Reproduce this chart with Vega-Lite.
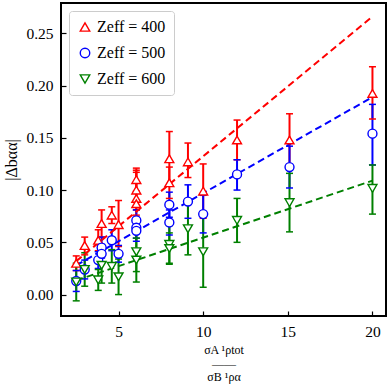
{
  "$schema": "https://vega.github.io/schema/vega-lite/v6.json",
  "width": 325,
  "height": 313,
  "autosize": {"type": "none"},
  "padding": {"left": 61, "top": 3, "right": 3, "bottom": 71},
  "background": "white",
  "config": {
    "font": "Liberation Serif",
    "view": {"stroke": "black", "strokeWidth": 2},
    "axis": {
      "grid": false,
      "domain": false,
      "tickColor": "black",
      "tickSize": -5,
      "tickWidth": 1.2,
      "labelFont": "Liberation Serif",
      "labelFontSize": 15.5,
      "labelColor": "black",
      "labelPadding": 13,
      "titleFont": "Liberation Serif",
      "titleFontSize": 16,
      "titleFontWeight": "normal",
      "titleColor": "black"
    },
    "legend": {
      "labelFont": "Liberation Serif",
      "labelFontSize": 16,
      "labelFontWeight": "normal",
      "labelColor": "black"
    }
  },
  "datasets": {
    "pts": [
      {"Z": "400", "x": 2.5, "y": 0.030, "lo": 0.023, "hi": 0.037},
      {"Z": "400", "x": 3.0, "y": 0.047, "lo": 0.038, "hi": 0.055},
      {"Z": "400", "x": 3.8, "y": 0.052, "lo": 0.042, "hi": 0.062},
      {"Z": "400", "x": 4.0, "y": 0.068, "lo": 0.055, "hi": 0.081},
      {"Z": "400", "x": 4.6, "y": 0.076, "lo": 0.068, "hi": 0.084},
      {"Z": "400", "x": 5.0, "y": 0.067, "lo": 0.046, "hi": 0.090},
      {"Z": "400", "x": 6.05, "y": 0.110, "lo": 0.099, "hi": 0.121},
      {"Z": "400", "x": 6.05, "y": 0.100, "lo": 0.089, "hi": 0.119},
      {"Z": "400", "x": 6.05, "y": 0.092, "lo": 0.081, "hi": 0.117},
      {"Z": "400", "x": 6.05, "y": 0.087, "lo": 0.076, "hi": 0.098},
      {"Z": "400", "x": 8.0, "y": 0.130, "lo": 0.104, "hi": 0.156},
      {"Z": "400", "x": 8.0, "y": 0.107, "lo": 0.092, "hi": 0.122},
      {"Z": "400", "x": 9.1, "y": 0.127, "lo": 0.112, "hi": 0.145},
      {"Z": "400", "x": 10.0, "y": 0.099, "lo": 0.073, "hi": 0.125},
      {"Z": "400", "x": 12.0, "y": 0.148, "lo": 0.129, "hi": 0.167},
      {"Z": "400", "x": 15.1, "y": 0.148, "lo": 0.123, "hi": 0.173},
      {"Z": "400", "x": 20.0, "y": 0.1925, "lo": 0.168, "hi": 0.218},
      {"Z": "500", "x": 2.5, "y": 0.013, "lo": 0.003, "hi": 0.023},
      {"Z": "500", "x": 3.0, "y": 0.024, "lo": 0.015, "hi": 0.033},
      {"Z": "500", "x": 3.8, "y": 0.033, "lo": 0.025, "hi": 0.041},
      {"Z": "500", "x": 4.0, "y": 0.045, "lo": 0.035, "hi": 0.055},
      {"Z": "500", "x": 4.0, "y": 0.039, "lo": 0.030, "hi": 0.048},
      {"Z": "500", "x": 4.6, "y": 0.052, "lo": 0.042, "hi": 0.062},
      {"Z": "500", "x": 5.0, "y": 0.039, "lo": 0.031, "hi": 0.047},
      {"Z": "500", "x": 6.05, "y": 0.071, "lo": 0.061, "hi": 0.081},
      {"Z": "500", "x": 6.05, "y": 0.064, "lo": 0.054, "hi": 0.074},
      {"Z": "500", "x": 6.05, "y": 0.061, "lo": 0.051, "hi": 0.071},
      {"Z": "500", "x": 8.0, "y": 0.086, "lo": 0.074, "hi": 0.098},
      {"Z": "500", "x": 8.0, "y": 0.069, "lo": 0.057, "hi": 0.081},
      {"Z": "500", "x": 9.1, "y": 0.089, "lo": 0.073, "hi": 0.105},
      {"Z": "500", "x": 10.0, "y": 0.077, "lo": 0.059, "hi": 0.095},
      {"Z": "500", "x": 12.0, "y": 0.115, "lo": 0.100, "hi": 0.129},
      {"Z": "500", "x": 15.1, "y": 0.122, "lo": 0.102, "hi": 0.142},
      {"Z": "500", "x": 20.0, "y": 0.154, "lo": 0.124, "hi": 0.182},
      {"Z": "600", "x": 2.5, "y": 0.012, "lo": -0.006, "hi": 0.030},
      {"Z": "600", "x": 3.0, "y": 0.024, "lo": 0.008, "hi": 0.040},
      {"Z": "600", "x": 3.8, "y": 0.014, "lo": 0.004, "hi": 0.024},
      {"Z": "600", "x": 4.0, "y": 0.028, "lo": 0.011, "hi": 0.045},
      {"Z": "600", "x": 4.6, "y": 0.027, "lo": 0.011, "hi": 0.043},
      {"Z": "600", "x": 5.0, "y": 0.017, "lo": 0.000, "hi": 0.034},
      {"Z": "600", "x": 6.05, "y": 0.041, "lo": 0.022, "hi": 0.060},
      {"Z": "600", "x": 6.05, "y": 0.033, "lo": 0.012, "hi": 0.054},
      {"Z": "600", "x": 8.0, "y": 0.048, "lo": 0.030, "hi": 0.066},
      {"Z": "600", "x": 8.0, "y": 0.044, "lo": 0.029, "hi": 0.059},
      {"Z": "600", "x": 9.1, "y": 0.063, "lo": 0.038, "hi": 0.088},
      {"Z": "600", "x": 10.0, "y": 0.041, "lo": 0.007, "hi": 0.075},
      {"Z": "600", "x": 12.0, "y": 0.071, "lo": 0.050, "hi": 0.092},
      {"Z": "600", "x": 15.1, "y": 0.088, "lo": 0.060, "hi": 0.116},
      {"Z": "600", "x": 20.0, "y": 0.1016, "lo": 0.077, "hi": 0.124}
    ],
    "fits": [
      {"Z": "400", "x": 2.5, "y": 0.032},
      {"Z": "400", "x": 20.0, "y": 0.266},
      {"Z": "500", "x": 2.5, "y": 0.028},
      {"Z": "500", "x": 20.0, "y": 0.189},
      {"Z": "600", "x": 2.5, "y": 0.0136},
      {"Z": "600", "x": 20.0, "y": 0.109}
    ]
  },
  "encoding": {
    "x": {
      "field": "x",
      "type": "quantitative",
      "scale": {"domain": [1.6, 20.8], "nice": false, "zero": false},
      "axis": {
        "values": [5, 10, 15, 20],
        "title": ["σA ¹ρtot", "——", "σB ¹ρα"],
        "titleFontSize": 12,
        "titleLineHeight": 13.5,
        "titlePadding": 5
      }
    },
    "color": {
      "field": "Z",
      "type": "nominal",
      "scale": {"domain": ["400", "500", "600"], "range": ["#ff0000", "#0000ff", "#008000"]},
      "legend": {
        "title": null,
        "orient": "top-left",
        "offset": 8,
        "labelExpr": "'Zeff = ' + datum.label",
        "labelFont": "Liberation Serif",
        "labelFontWeight": "normal",
        "labelFontSize": 16,
        "strokeColor": "#cccccc",
        "fillColor": "white",
        "padding": 8,
        "cornerRadius": 3,
        "rowPadding": 10,
        "symbolSize": 90,
        "symbolStrokeWidth": 1.4,
        "symbolFillColor": "white"
      }
    }
  },
  "layer": [
    {
      "data": {"name": "pts"},
      "mark": {"type": "rule", "strokeWidth": 2},
      "encoding": {
        "y": {
          "field": "lo",
          "type": "quantitative",
          "scale": {"domain": [-0.0205, 0.279], "nice": false, "zero": false},
          "axis": {
            "values": [0, 0.05, 0.1, 0.15, 0.2, 0.25],
            "format": ".2f",
            "title": "|Δbαα|",
            "titlePadding": 6
          }
        },
        "y2": {"field": "hi"}
      }
    },
    {
      "data": {"name": "pts"},
      "mark": {"type": "rule", "strokeWidth": 1.5, "xOffset": -3.5, "x2Offset": 3.5},
      "encoding": {"x2": {"field": "x"}, "y": {"field": "lo", "type": "quantitative"}}
    },
    {
      "data": {"name": "pts"},
      "mark": {"type": "rule", "strokeWidth": 1.5, "xOffset": -3.5, "x2Offset": 3.5},
      "encoding": {"x2": {"field": "x"}, "y": {"field": "hi", "type": "quantitative"}}
    },
    {
      "data": {"name": "fits"},
      "mark": {"type": "line", "strokeDash": [7, 4], "strokeWidth": 2},
      "encoding": {
        "y": {"field": "y", "type": "quantitative"},
        "detail": {"field": "Z"}
      }
    },
    {
      "data": {"name": "pts"},
      "mark": {"type": "point", "filled": false, "fill": "white", "fillOpacity": 1, "size": 80, "strokeWidth": 1.4, "opacity": 1},
      "encoding": {
        "y": {"field": "y", "type": "quantitative"},
        "shape": {
          "field": "Z",
          "type": "nominal",
          "scale": {"domain": ["400", "500", "600"], "range": ["triangle-up", "circle", "triangle-down"]},
          "legend": {
            "title": null,
            "orient": "top-left",
            "offset": 8,
            "labelExpr": "'Zeff = ' + datum.label",
            "labelFont": "Liberation Serif",
            "labelFontWeight": "normal",
            "labelFontSize": 16,
            "strokeColor": "#cccccc",
            "fillColor": "white",
            "padding": 8,
            "cornerRadius": 3,
            "rowPadding": 10,
            "symbolSize": 90,
            "symbolStrokeWidth": 1.4,
            "symbolFillColor": "white"
          }
        }
      }
    }
  ]
}
